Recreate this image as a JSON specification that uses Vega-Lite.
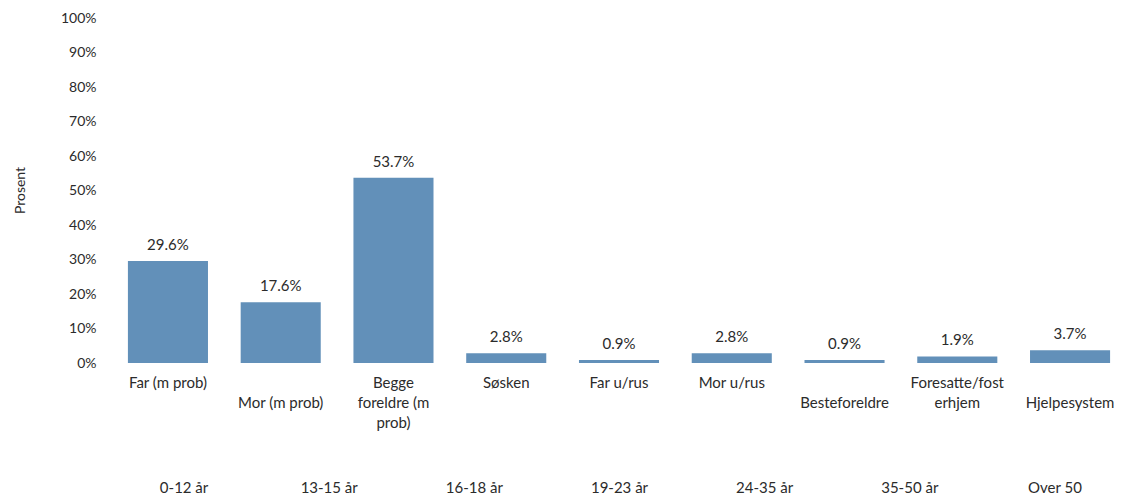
{
  "$schema": "https://vega.github.io/schema/vega-lite/v6.json",
  "width": 1016,
  "height": 345,
  "autosize": {"type": "none"},
  "padding": {"left": 111, "top": 18, "right": 0, "bottom": 137},
  "background": "white",
  "config": {"view": {"stroke": null}, "font": "Lato", "text": {"font": "Lato"}},
  "layer": [
    {
      "data": {
        "values": [
          {"kategori": "Far (m prob)", "andel": 0.296, "etikett": "29.6%"},
          {"kategori": "Mor (m prob)", "andel": 0.176, "etikett": "17.6%"},
          {"kategori": "Begge foreldre (m prob)", "andel": 0.537, "etikett": "53.7%"},
          {"kategori": "Søsken", "andel": 0.028, "etikett": "2.8%"},
          {"kategori": "Far u/rus", "andel": 0.009, "etikett": "0.9%"},
          {"kategori": "Mor u/rus", "andel": 0.028, "etikett": "2.8%"},
          {"kategori": "Besteforeldre", "andel": 0.009, "etikett": "0.9%"},
          {"kategori": "Foresatte/fosterhjem", "andel": 0.019, "etikett": "1.9%"},
          {"kategori": "Hjelpesystem", "andel": 0.037, "etikett": "3.7%"}
        ]
      },
      "encoding": {
        "x": {
          "field": "kategori",
          "type": "nominal",
          "sort": null,
          "scale": {"paddingInner": 0.29, "paddingOuter": 0.15},
          "axis": {
            "title": null,
            "domain": false,
            "ticks": false,
            "labelAngle": 0,
            "labelPadding": 12,
            "labelFontSize": 15,
            "labelLineHeight": 20,
            "labelColor": "#2b2b2b",
            "labelBaseline": "top",
            "labelExpr": "datum.label == 'Begge foreldre (m prob)' ? ['Begge', 'foreldre (m', 'prob)'] : datum.label == 'Foresatte/fosterhjem' ? ['Foresatte/fost', 'erhjem'] : (datum.label == 'Mor (m prob)' || datum.label == 'Besteforeldre' || datum.label == 'Hjelpesystem') ? ['', datum.label] : datum.label"
          }
        },
        "y": {
          "field": "andel",
          "type": "quantitative",
          "scale": {"domain": [0, 1]},
          "axis": {
            "title": "Prosent",
            "titleFontSize": 14,
            "titleFontWeight": "normal",
            "titleColor": "#2b2b2b",
            "titleX": -91,
            "titleY": 172,
            "titleAngle": -90,
            "titleAlign": "center",
            "titleBaseline": "middle",
            "domain": false,
            "ticks": false,
            "grid": false,
            "values": [0, 0.1, 0.2, 0.3, 0.4, 0.5, 0.6, 0.7, 0.8, 0.9, 1],
            "format": ".0%",
            "labelPadding": 15,
            "labelFontSize": 14,
            "labelColor": "#2b2b2b"
          }
        }
      },
      "layer": [
        {"mark": {"type": "bar", "color": "#6290b9"}},
        {
          "mark": {"type": "text", "baseline": "bottom", "dy": -8, "fontSize": 15, "color": "#2b2b2b"},
          "encoding": {"text": {"field": "etikett"}}
        }
      ]
    },
    {
      "data": {
        "values": [
          {"alder": "0-12 år"},
          {"alder": "13-15 år"},
          {"alder": "16-18 år"},
          {"alder": "19-23 år"},
          {"alder": "24-35 år"},
          {"alder": "35-50 år"},
          {"alder": "Over 50"}
        ]
      },
      "mark": {"type": "text", "opacity": 0},
      "encoding": {
        "x": {
          "field": "alder",
          "type": "nominal",
          "sort": null,
          "scale": {"paddingInner": 0, "paddingOuter": 0.05},
          "axis": {
            "orient": "bottom",
            "offset": 117,
            "title": null,
            "domain": false,
            "ticks": false,
            "labelAngle": 0,
            "labelPadding": 0,
            "labelBaseline": "top",
            "labelFontSize": 15,
            "labelColor": "#2b2b2b"
          }
        },
        "text": {"value": ""}
      }
    }
  ],
  "resolve": {"scale": {"x": "independent"}, "axis": {"x": "independent"}}
}
